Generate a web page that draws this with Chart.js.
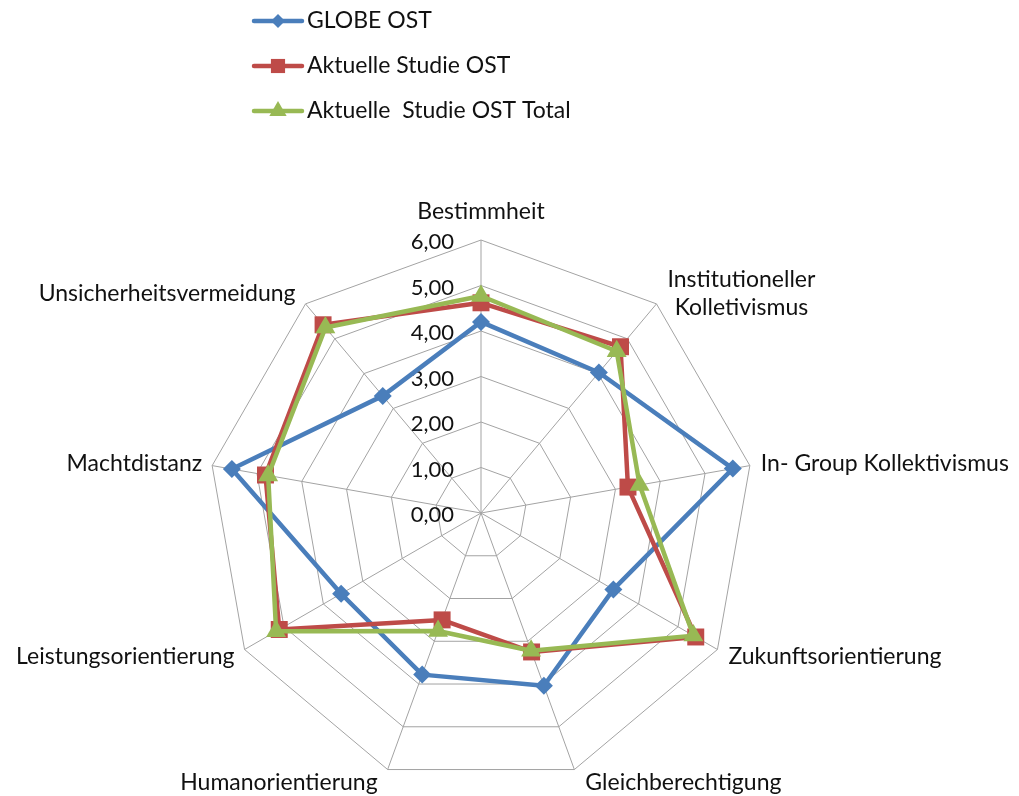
<!DOCTYPE html>
<html>
<head>
<meta charset="utf-8">
<script src="https://cdn.jsdelivr.net/npm/chart.js@4/dist/chart.umd.min.js"></script>
<style>
  html, body { margin: 0; padding: 0; background: #ffffff; }
  #wrap { width: 1019px; height: 796px; position: relative; }
</style>
</head>
<body>
<div id="wrap"><canvas id="radar" width="1019" height="796"></canvas></div>
<script>
// GLOBE dimensions (axes of the radar, clockwise from the top)
const categories = [
  'Bestimmheit',
  ['Institutioneller', 'Kolletivismus'],
  'In- Group Kollektivismus',
  'Zukunftsorientierung',
  'Gleichberechtigung',
  'Humanorientierung',
  'Leistungsorientierung',
  'Machtdistanz',
  'Unsicherheitsvermeidung'
];

const seriesNames = ['GLOBE OST', 'Aktuelle Studie OST', 'Aktuelle  Studie OST Total'];

const globeOst       = [4.20, 4.03, 5.62, 3.36, 4.04, 3.78, 3.55, 5.56, 3.36];
const studieOst      = [4.62, 4.77, 3.28, 5.45, 3.25, 2.50, 5.12, 4.81, 5.40];
const studieOstTotal = [4.77, 4.64, 3.54, 5.39, 3.22, 2.76, 5.20, 4.75, 5.32];

const tickValues = [0, 1, 2, 3, 4, 5, 6];

const FONT = 'Lato, "Open Sans", sans-serif';
const TEXT_COLOR = '#111111';
const GRID_COLOR = '#a3a3a3';

const styles = [
  { color: '#4a7ebb', point: 'rectRot', radius: 9, legendRadius: 7 },
  { color: '#be4b48', point: 'rect', radius: 12, legendRadius: 10 },
  { color: '#98b954', point: 'triangle', radius: 11.5, legendRadius: 10 }
];

const seriesData = [globeOst, studieOst, studieOstTotal];

const fmt = v => v.toFixed(2).replace('.', ',');

function marker(ctx, style, r, x, y) {
  ctx.beginPath();
  if (style === 'rectRot') {
    ctx.moveTo(x, y - r); ctx.lineTo(x + r, y); ctx.lineTo(x, y + r); ctx.lineTo(x - r, y);
  } else if (style === 'rect') {
    const s = r * Math.SQRT1_2;
    ctx.rect(x - s, y - s, 2 * s, 2 * s);
  } else {
    const a = Math.PI * 2 / 3;
    ctx.moveTo(x, y - r);
    ctx.lineTo(x + Math.sin(a) * r, y - Math.cos(a) * r);
    ctx.lineTo(x + Math.sin(2 * a) * r, y - Math.cos(2 * a) * r);
  }
  ctx.closePath();
  ctx.fill();
}

// Legend block, value labels and category labels
const decorations = {
  id: 'decorations',
  beforeDatasetsDraw(chart) {
    const ctx = chart.ctx;
    const scale = chart.scales.r;
    ctx.save();
    ctx.font = '22px ' + FONT;
    ctx.fillStyle = TEXT_COLOR;
    ctx.textAlign = 'right';
    ctx.textBaseline = 'middle';
    tickValues.forEach(v => {
      const p = scale.getPointPositionForValue(0, v);
      ctx.fillText(fmt(v), p.x - 27, p.y + 2);
    });
    ctx.restore();
  },
  afterDraw(chart) {
    const ctx = chart.ctx;
    const scale = chart.scales.r;
    ctx.save();
    // category labels around the outer ring
    ctx.font = '23px ' + FONT;
    ctx.fillStyle = TEXT_COLOR;
    ctx.textBaseline = 'middle';
    const lineH = 28;
    categories.forEach((label, i) => {
      const v = scale.getPointPosition(i, scale.drawingArea);
      const ang = scale.getIndexAngle(i);
      const sx = Math.sin(ang), cy = -Math.cos(ang);
      const lines = Array.isArray(label) ? label : [label];
      let x = v.x, y = v.y;
      if (Math.abs(sx) < 0.1) {
        ctx.textAlign = 'center';
        y += cy > 0 ? 28 : -28;
      } else {
        ctx.textAlign = 'left';
        if (sx > 0) { x += 11; } else { x -= 10; ctx.textAlign = 'right'; }
        y += cy * 14;
      }
      if (lines.length > 1) {
        // multi-line labels are centred on their own block
        const w = Math.max(...lines.map(t => ctx.measureText(t).width));
        const cx = ctx.textAlign === 'left' ? x + w / 2 : x - w / 2;
        ctx.textAlign = 'center';
        const top = y - (lines.length - 1) * lineH / 2;
        lines.forEach((t, k) => ctx.fillText(t, cx, top + k * lineH));
      } else {
        ctx.fillText(lines[0], x, y);
      }
    });

    // legend
    const rows = [21, 66, 111];
    ctx.font = '23px ' + FONT;
    ctx.textAlign = 'left';
    seriesNames.forEach((name, i) => {
      const st = styles[i];
      const y = rows[i];
      ctx.strokeStyle = st.color;
      ctx.fillStyle = st.color;
      ctx.lineWidth = 4.5;
      ctx.lineCap = 'round';
      ctx.beginPath();
      ctx.moveTo(254, y);
      ctx.lineTo(302, y);
      ctx.stroke();
      marker(ctx, st.point, st.legendRadius, 278, y);
      ctx.fillStyle = TEXT_COLOR;
      ctx.fillText(name, 307, y);
    });
    ctx.restore();
  }
};

const drawOrder = [2, 1, 0];

new Chart(document.getElementById('radar'), {
  type: 'radar',
  data: {
    labels: categories,
    datasets: seriesData.map((d, i) => ({
      label: seriesNames[i],
      data: d,
      borderColor: styles[i].color,
      backgroundColor: styles[i].color,
      pointBackgroundColor: styles[i].color,
      pointBorderColor: styles[i].color,
      pointBorderWidth: 0,
      pointStyle: styles[i].point,
      pointRadius: styles[i].radius,
      pointHoverRadius: styles[i].radius,
      borderWidth: 4.5,
      borderJoinStyle: 'round',
      fill: false,
      tension: 0,
      order: drawOrder[i]
    }))
  },
  options: {
    responsive: false,
    animation: false,
    devicePixelRatio: 1,
    layout: { padding: { left: 208, right: 265, top: 240, bottom: 10 } },
    plugins: {
      legend: { display: false },
      tooltip: { enabled: false }
    },
    scales: {
      r: {
        min: 0,
        max: 6,
        ticks: { display: false, stepSize: 1 },
        grid: { color: GRID_COLOR, lineWidth: 1 },
        angleLines: { color: GRID_COLOR, lineWidth: 1 },
        pointLabels: { display: false }
      }
    }
  },
  plugins: [decorations]
});
</script>
</body>
</html>
